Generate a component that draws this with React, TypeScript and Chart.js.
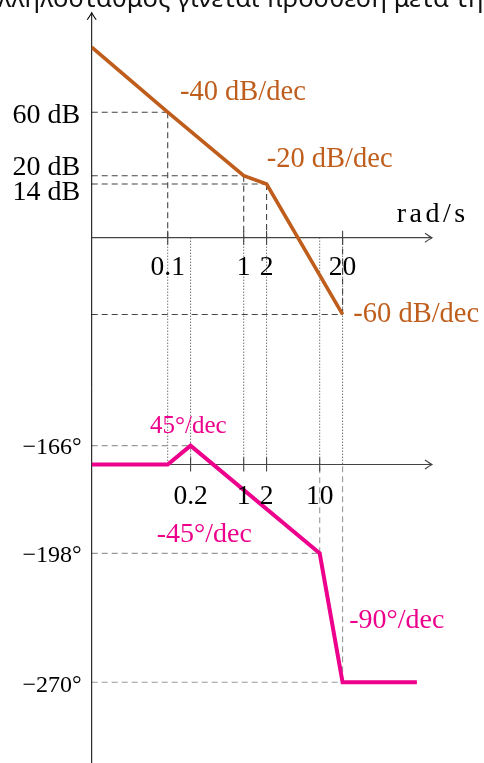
import { useEffect, useRef } from "react";
import { Chart, registerables } from "chart.js";

Chart.register(...registerables);

// ---- data (schematic Bode plot; levels in drawing units) ----
const magFreq = [0.01, 0.1, 1, 2, 20];
const magLevel = [5.04, 3.32, 1.64, 1.42, -2.03];
const magTickFreq = [0.1, 1, 2, 20];
const magTickLabels = ["0.1", "1", "2", "20"];
const magLevelLabels = ["60 dB", "20 dB", "14 dB"];
const magSlopeLabels = ["-40 dB/dec", "-20 dB/dec", "-60 dB/dec"];

const phaseFreq = [0.01, 0.1, 0.2, 10, 20, 190];
const phaseLevel = [-6, -6, -5.5, -8.35, -11.76, -11.76];
const phaseTickFreq = [0.2, 1, 2, 10];
const phaseTickLabels = ["0.2", "1", "2", "10"];
const phaseLevelLabels = ["−166°", "−198°", "−270°"];
const phaseSlopeLabels = ["45°/dec", "-45°/dec", "-90°/dec"];

const gridFreq = [0.1, 0.2, 1, 2, 10, 20];
const axisLabel = "rad/s";
const topText = "λληλοσταθμος γίνεται πρόσθεση μετά τη";

// ---- layout (not data) ----
const MAG_AXIS = 0;
const PHASE_AXIS = -6;
const X_MIN = 0.01;
const X_MAX = 1000;
const X_AXIS_END = 300;
const Y_TOP = 5.95;
const Y_MAX = 237.7 / 37.8;
const Y_MIN = (237.7 - 763) / 37.8;

const MAG_COLOR = "#BF5E1C";
const PHASE_COLOR = "#EC008C";
const SERIF = "'Liberation Serif', 'DejaVu Serif', serif";

const magSlopePos = [
  { x: 0.145, y: 3.643 },
  { x: 2.01, y: 1.87 },
  { x: 27.7, y: -2.222 },
];
const phaseSlopePos = [
  { x: 0.0585, y: -5.167 },
  { x: 0.0717, y: -8.042 },
  { x: 24.5, y: -10.333 },
];
const phaseSlopeSize = [25, 28, 28];
const magLabelDy = [10.7, -0.7, 16];
const phaseLabelDy = [8, 8.5, 9.5];
const axisLabelPos = { x: 103, y: 0.423 };

function toPoints(xs: number[], ys: number[]) {
  return xs.map((v, i) => ({ x: v, y: ys[i] }));
}

const bodePlugin = {
  id: "bodeDecor",
  beforeDatasetsDraw(chart: any) {
    const { ctx, scales } = chart;
    const X = (v: number) => scales.x.getPixelForValue(v);
    const Y = (v: number) => scales.y.getPixelForValue(v);
    const seg = (
      x1: number,
      y1: number,
      x2: number,
      y2: number,
      color: string,
      width: number,
      dash: number[]
    ) => {
      ctx.save();
      ctx.strokeStyle = color;
      ctx.lineWidth = width;
      ctx.setLineDash(dash);
      ctx.beginPath();
      ctx.moveTo(x1, y1);
      ctx.lineTo(x2, y2);
      ctx.stroke();
      ctx.restore();
    };
    const arrowRight = (tx: number, ty: number, color: string) => {
      ctx.save();
      ctx.strokeStyle = color;
      ctx.lineWidth = 1.1;
      ctx.beginPath();
      ctx.moveTo(tx - 7, ty - 4.5);
      ctx.quadraticCurveTo(tx - 2, ty - 1, tx, ty);
      ctx.quadraticCurveTo(tx - 2, ty + 1, tx - 7, ty + 4.5);
      ctx.stroke();
      ctx.restore();
    };
    const arrowUp = (tx: number, ty: number, color: string) => {
      ctx.save();
      ctx.strokeStyle = color;
      ctx.lineWidth = 1.1;
      ctx.beginPath();
      ctx.moveTo(tx - 4.5, ty + 7);
      ctx.quadraticCurveTo(tx - 1, ty + 2, tx, ty);
      ctx.quadraticCurveTo(tx + 1, ty + 2, tx + 4.5, ty + 7);
      ctx.stroke();
      ctx.restore();
    };

    // dotted verticals between the two frequency axes
    gridFreq.forEach((f) =>
      seg(X(f), Y(MAG_AXIS), X(f), Y(PHASE_AXIS), "#333", 1, [1, 2])
    );

    // magnitude guide lines
    for (let i = 1; i < magFreq.length; i++) {
      seg(X(X_MIN), Y(magLevel[i]), X(magFreq[i]), Y(magLevel[i]), "#444", 1.1, [6, 4]);
      seg(X(magFreq[i]), Y(magLevel[i]), X(magFreq[i]), Y(MAG_AXIS), "#444", 1.1, [6, 4]);
    }
    // phase guide lines
    for (let i = 2; i < 5; i++) {
      seg(X(X_MIN), Y(phaseLevel[i]), X(phaseFreq[i]), Y(phaseLevel[i]), "#999", 1.1, [6, 4]);
      seg(X(phaseFreq[i]), Y(phaseLevel[i]), X(phaseFreq[i]), Y(PHASE_AXIS), "#999", 1.1, [6, 4]);
    }

    // ticks
    magTickFreq.forEach((f) =>
      seg(X(f), Y(MAG_AXIS) - 7, X(f), Y(MAG_AXIS) + 7, "#444", 1.1, [])
    );
    phaseTickFreq.forEach((f) =>
      seg(X(f), Y(PHASE_AXIS) - 7, X(f), Y(PHASE_AXIS) + 7, "#444", 1.1, [])
    );

    // axes
    seg(X(X_MIN), Y(Y_TOP), X(X_MIN), Y(Y_MIN), "#000", 1, []);
    arrowUp(X(X_MIN), Y(Y_TOP), "#000");
    seg(X(X_MIN), Y(MAG_AXIS), X(X_AXIS_END), Y(MAG_AXIS), "#444", 1.2, []);
    arrowRight(X(X_AXIS_END), Y(MAG_AXIS), "#444");
    seg(X(X_MIN), Y(PHASE_AXIS), X(X_AXIS_END), Y(PHASE_AXIS), "#444", 1.2, []);
    arrowRight(X(X_AXIS_END), Y(PHASE_AXIS), "#444");
  },
  afterDatasetsDraw(chart: any) {
    const { ctx, scales } = chart;
    const X = (v: number) => scales.x.getPixelForValue(v);
    const Y = (v: number) => scales.y.getPixelForValue(v);
    ctx.save();
    ctx.textBaseline = "alphabetic";

    // top (cropped) text line
    ctx.fillStyle = "#111";
    ctx.font = "25.5px 'Noto Sans', sans-serif";
    ctx.textAlign = "left";
    ctx.fillText(topText, -2, 7);

    // y labels
    ctx.fillStyle = "#000";
    ctx.textAlign = "right";
    ctx.font = `28px ${SERIF}`;
    magLevelLabels.forEach((t, i) => {
      ctx.fillText(t, X(X_MIN) - 11.5, Y(magLevel[i + 1]) + magLabelDy[i]);
    });
    ctx.font = `24px ${SERIF}`;
    phaseLevelLabels.forEach((t, i) => {
      ctx.fillText(t, X(X_MIN) - 10, Y(phaseLevel[i + 2]) + phaseLabelDy[i]);
    });

    // x tick labels
    ctx.textAlign = "center";
    ctx.font = `27.5px ${SERIF}`;
    magTickFreq.forEach((f, i) => {
      ctx.fillText(magTickLabels[i], X(f), Y(MAG_AXIS) + 37.3);
    });
    phaseTickFreq.forEach((f, i) => {
      ctx.fillText(phaseTickLabels[i], X(f), Y(PHASE_AXIS) + 39);
    });

    // axis unit
    ctx.textAlign = "left";
    ctx.font = `28px ${SERIF}`;
    (ctx as any).letterSpacing = "3.5px";
    ctx.fillText(axisLabel, X(axisLabelPos.x), Y(axisLabelPos.y));
    (ctx as any).letterSpacing = "0px";

    // slope labels
    ctx.fillStyle = MAG_COLOR;
    ctx.font = `28.5px ${SERIF}`;
    magSlopeLabels.forEach((t, i) => {
      ctx.fillText(t, X(magSlopePos[i].x), Y(magSlopePos[i].y));
    });
    ctx.fillStyle = PHASE_COLOR;
    phaseSlopeLabels.forEach((t, i) => {
      ctx.font = `${phaseSlopeSize[i]}px ${SERIF}`;
      ctx.fillText(t, X(phaseSlopePos[i].x), Y(phaseSlopePos[i].y));
    });
    ctx.restore();
  },
};

export default function App() {
  const canvasRef = useRef<HTMLCanvasElement | null>(null);

  useEffect(() => {
    const canvas = canvasRef.current;
    if (!canvas) return;
    const chart = new Chart(canvas, {
      type: "line",
      data: {
        datasets: [
          {
            label: "magnitude",
            data: toPoints(magFreq, magLevel),
            borderColor: MAG_COLOR,
            borderWidth: 3.6,
            pointRadius: 0,
            tension: 0,
            borderJoinStyle: "miter",
            borderCapStyle: "butt",
          },
          {
            label: "phase",
            data: toPoints(phaseFreq, phaseLevel),
            borderColor: PHASE_COLOR,
            borderWidth: 4,
            pointRadius: 0,
            tension: 0,
            borderJoinStyle: "miter",
            borderCapStyle: "butt",
          },
        ],
      },
      options: {
        responsive: false,
        animation: false,
        devicePixelRatio: 1,
        layout: { padding: { left: 91.7, right: 12.3, top: 0, bottom: 0 } },
        plugins: {
          legend: { display: false },
          tooltip: { enabled: false },
          title: { display: false },
        },
        scales: {
          x: { type: "logarithmic", min: X_MIN, max: X_MAX, display: false },
          y: { type: "linear", min: Y_MIN, max: Y_MAX, display: false },
        },
        events: [],
      },
      plugins: [bodePlugin],
    } as any);
    return () => chart.destroy();
  }, []);

  return (
    <div style={{ position: "absolute", left: 0, top: 0, width: 484, height: 763, background: "#fff" }}>
      <canvas ref={canvasRef} width={484} height={763} style={{ display: "block" }} />
    </div>
  );
}
